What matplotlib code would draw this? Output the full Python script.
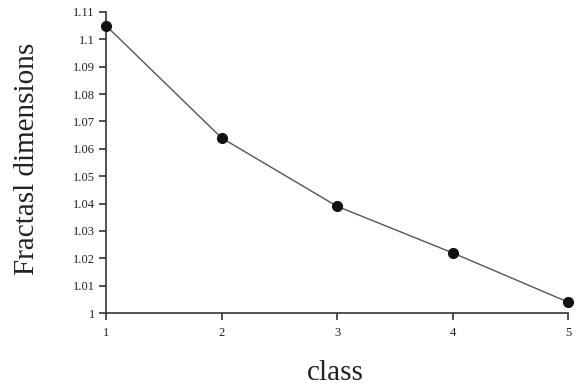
import matplotlib
matplotlib.use("Agg")
import matplotlib.pyplot as plt

classes = [1, 2, 3, 4, 5]
fractal_dims = [1.105, 1.064, 1.039, 1.022, 1.004]
yticks = [1, 1.01, 1.02, 1.03, 1.04, 1.05, 1.06, 1.07, 1.08, 1.09, 1.1, 1.11]
ytick_labels = ["1", "1.01", "1.02", "1.03", "1.04", "1.05", "1.06", "1.07", "1.08", "1.09", "1.1", "1.11"]

plt.rcParams['font.family'] = ['Liberation Serif', 'DejaVu Serif']

fig = plt.figure(figsize=(5.78, 3.92), dpi=100)
ax = fig.add_axes([0.1834, 0.2015, 0.7993, 0.768])
ax.plot(classes, fractal_dims, color='#555555', lw=1.0, marker='o', ms=7,
        mfc='#111111', mec='#111111', clip_on=False, zorder=3)
ax.set_xlim(1, 5)
ax.set_ylim(1, 1.11)
ax.set_xticks(classes)
ax.set_xticklabels([str(c) for c in classes])
ax.set_yticks(yticks)
ax.set_yticklabels(ytick_labels)
ax.spines['top'].set_visible(False)
ax.spines['right'].set_visible(False)
for s in ['left', 'bottom']:
    ax.spines[s].set_linewidth(1.2)
    ax.spines[s].set_color('#333333')
ax.tick_params(axis='both', direction='out', length=5, width=1.2, color='#333333',
               labelsize=9, labelcolor='#222222')
ax.tick_params(axis='x', pad=5)
ax.tick_params(axis='y', pad=3)
fig.text(27 / 578, 1 - 159 / 392, "Fractasl dimensions", rotation=90, fontsize=21,
         color='#222222', ha='center', va='center')
fig.text(335 / 578, 1 - 373 / 392, "class", fontsize=21, color='#222222',
         ha='center', va='center')
fig.savefig("out.png", dpi=100, facecolor='white')
